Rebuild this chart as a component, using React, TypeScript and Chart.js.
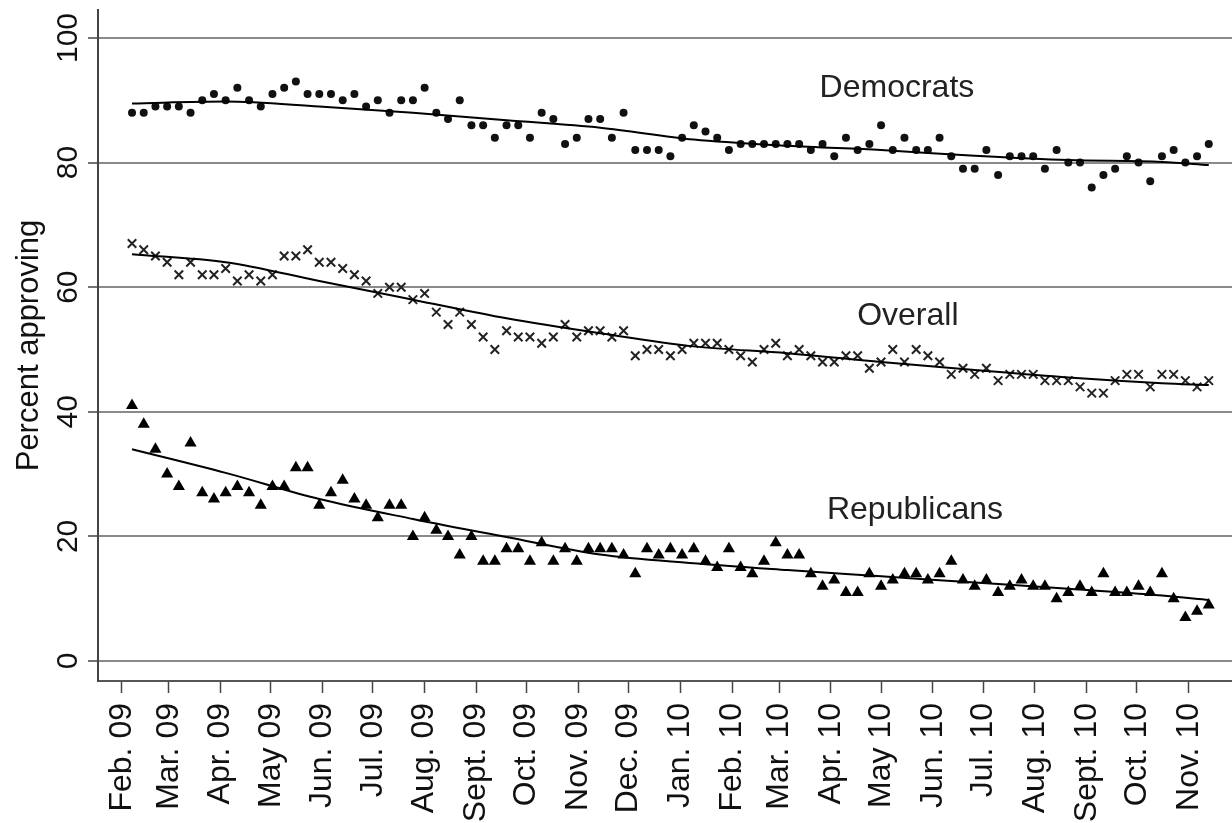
import React, { useEffect, useRef } from 'react';
import { Chart, registerables } from 'chart.js';

Chart.register(...registerables);

// Month ticks: days counted from Feb. 1, 2009
const monthTickDays = [0, 28, 59, 89, 120, 150, 181, 212, 242, 273, 303, 334, 365, 393, 424, 454, 485, 515, 546, 577, 607, 638];
const monthTickLabels = [
  'Feb. 09', 'Mar. 09', 'Apr. 09', 'May 09', 'Jun. 09', 'Jul. 09', 'Aug. 09', 'Sept. 09', 'Oct. 09', 'Nov. 09', 'Dec. 09',
  'Jan. 10', 'Feb. 10', 'Mar. 10', 'Apr. 10', 'May 10', 'Jun. 10', 'Jul. 10', 'Aug. 10', 'Sept. 10', 'Oct. 10', 'Nov. 10',
];
const yTicks = [0, 20, 40, 60, 80, 100];

// Weekly polls: first week on day 6, one poll every 7 days
const firstWeekDay = 6;
const daysPerWeek = 7;

const democrats = [
  88, 88, 89, 89, 89, 88, 90, 91, 90, 92, 90, 89, 91, 92, 93, 91, 91, 91, 90, 91, 89, 90, 88, 90, 90, 92, 88, 87, 90, 86, 86,
  84, 86, 86, 84, 88, 87, 83, 84, 87, 87, 84, 88, 82, 82, 82, 81, 84, 86, 85, 84, 82, 83, 83, 83, 83, 83, 83, 82, 83, 81, 84, 82, 83, 86,
  82, 84, 82, 82, 84, 81, 79, 79, 82, 78, 81, 81, 81, 79, 82, 80, 80, 76, 78, 79, 81, 80, 77, 81, 82, 80, 81, 83,
];
const overall = [
  67, 66, 65, 64, 62, 64, 62, 62, 63, 61, 62, 61, 62, 65, 65, 66, 64, 64, 63, 62, 61, 59, 60, 60, 58, 59, 56, 54, 56, 54, 52,
  50, 53, 52, 52, 51, 52, 54, 52, 53, 53, 52, 53, 49, 50, 50, 49, 50, 51, 51, 51, 50, 49, 48, 50, 51, 49, 50, 49, 48, 48, 49, 49, 47, 48,
  50, 48, 50, 49, 48, 46, 47, 46, 47, 45, 46, 46, 46, 45, 45, 45, 44, 43, 43, 45, 46, 46, 44, 46, 46, 45, 44, 45,
];
const republicans = [
  41, 38, 34, 30, 28, 35, 27, 26, 27, 28, 27, 25, 28, 28, 31, 31, 25, 27, 29, 26, 25, 23, 25, 25, 20, 23, 21, 20, 17, 20, 16,
  16, 18, 18, 16, 19, 16, 18, 16, 18, 18, 18, 17, 14, 18, 17, 18, 17, 18, 16, 15, 18, 15, 14, 16, 19, 17, 17, 14, 12, 13, 11, 11, 14, 12,
  13, 14, 14, 13, 14, 16, 13, 12, 13, 11, 12, 13, 12, 12, 10, 11, 12, 11, 14, 11, 11, 12, 11, 14, 10, 7, 8, 9,
];

// Smoothed trend lines, read at these week indices
const trendWeeks = [0, 8, 16, 24, 32, 40, 48, 56, 64, 72, 80, 88, 92];
const democratsTrend = [89.5, 89.8, 89.0, 88.0, 86.8, 85.6, 83.7, 82.7, 82.0, 81.1, 80.4, 80.1, 79.6];
const overallTrend = [65.3, 64.0, 61.0, 58.0, 55.0, 52.6, 50.5, 49.4, 48.0, 46.7, 45.5, 44.6, 44.3];
const republicansTrend = [34.0, 30.2, 26.0, 22.8, 19.9, 17.1, 15.7, 14.6, 13.6, 12.6, 11.6, 10.5, 9.8];

// In-plot group labels
const groupLabels = ['Democrats', 'Overall', 'Republicans'];
const groupLabelDays = [463.5, 470, 474.3];
const groupLabelValues = [92.0, 55.4, 24.2];

const FONT = '"Liberation Sans", Arial, sans-serif';

const weekDay = (i: number) => firstWeekDay + daysPerWeek * i;
const toPoints = (vals: number[]) => vals.map((v, i) => ({ x: weekDay(i), y: v }));
const toTrend = (vals: number[]) => vals.map((v, i) => ({ x: weekDay(trendWeeks[i]), y: v }));

const groupLabelPlugin = {
  id: 'groupLabels',
  afterDatasetsDraw(chart: any) {
    const { ctx, scales } = chart;
    const x = scales.x;
    const y = scales.y;
    ctx.save();
    ctx.font = `32px ${FONT}`;
    ctx.fillStyle = '#222';
    ctx.textAlign = 'center';
    ctx.textBaseline = 'middle';
    groupLabels.forEach((t, i) => {
      ctx.fillText(t, x.getPixelForValue(groupLabelDays[i]), y.getPixelForValue(groupLabelValues[i]));
    });
    ctx.restore();
  },
};

export default function App() {
  const ref = useRef<HTMLCanvasElement>(null);
  useEffect(() => {
    document.body.style.margin = '0';
    const canvas = ref.current!;
    const trendStyle = {
      type: 'line' as const,
      showLine: true,
      borderColor: '#000',
      borderWidth: 2,
      pointRadius: 0,
      fill: false,
      cubicInterpolationMode: 'monotone' as const,
      order: 0,
    };
    const chart = new Chart(canvas, {
      type: 'scatter',
      data: {
        datasets: [
          { ...trendStyle, label: 'Democrats trend', data: toTrend(democratsTrend) },
          { ...trendStyle, label: 'Overall trend', data: toTrend(overallTrend) },
          { ...trendStyle, label: 'Republicans trend', data: toTrend(republicansTrend) },
          {
            label: 'Democrats', data: toPoints(democrats), pointStyle: 'circle', pointRadius: 4,
            backgroundColor: '#111', borderColor: '#111', borderWidth: 0, order: 1,
          },
          {
            label: 'Overall', data: toPoints(overall), pointStyle: 'crossRot', pointRadius: 6,
            backgroundColor: '#222', borderColor: '#222', borderWidth: 2, order: 1,
          },
          {
            label: 'Republicans', data: toPoints(republicans), pointStyle: 'triangle', pointRadius: 7,
            backgroundColor: '#000', borderColor: '#000', borderWidth: 0, order: 1,
          },
        ] as any,
      },
      options: {
        responsive: false,
        animation: false,
        devicePixelRatio: 1,
        layout: { autoPadding: false, padding: { top: 10, right: 0, bottom: 0, left: 0 } },
        plugins: { legend: { display: false }, tooltip: { enabled: false } },
        scales: {
          x: {
            type: 'linear',
            min: -14.35,
            max: 663.9,
            afterBuildTicks: (s: any) => { s.ticks = monthTickDays.map((v) => ({ value: v })); },
            afterFit: (s: any) => {
              s.height = 142;
              s.paddingLeft = 0; s.paddingRight = 0; s.paddingTop = 0; s.paddingBottom = 0;
            },
            ticks: {
              autoSkip: false,
              minRotation: 90,
              maxRotation: 90,
              padding: 10,
              color: '#111',
              font: { family: FONT, size: 32 },
              callback: (_v: any, i: number) => monthTickLabels[i],
            },
            grid: { drawOnChartArea: false, drawTicks: true, tickLength: 12, tickColor: '#444', tickWidth: 1.5 },
            border: { display: true, color: '#555', width: 2 },
          },
          y: {
            type: 'linear',
            min: -3.21,
            max: 104.49,
            afterBuildTicks: (s: any) => { s.ticks = yTicks.map((v) => ({ value: v })); },
            afterFit: (s: any) => {
              s.width = 98;
              s.paddingLeft = 0; s.paddingRight = 0; s.paddingTop = 0; s.paddingBottom = 0;
            },
            ticks: {
              minRotation: 90,
              maxRotation: 90,
              crossAlign: 'center',
              padding: -6,
              color: '#111',
              font: { family: FONT, size: 30 },
            },
            grid: { color: '#8a8a8a', lineWidth: 2, tickColor: '#444', tickLength: 10, tickWidth: 1.5 },
            border: { display: true, color: '#444', width: 2 },
            title: {
              display: true,
              text: 'Percent approving',
              color: '#111',
              font: { family: FONT, size: 31 },
              padding: { top: 11, bottom: 0 },
            },
          },
        },
      },
      plugins: [groupLabelPlugin],
    } as any);
    return () => chart.destroy();
  }, []);
  return (
    <div style={{ width: 1232, height: 823 }}>
      <canvas ref={ref} width={1232} height={823} style={{ display: 'block' }} />
    </div>
  );
}
